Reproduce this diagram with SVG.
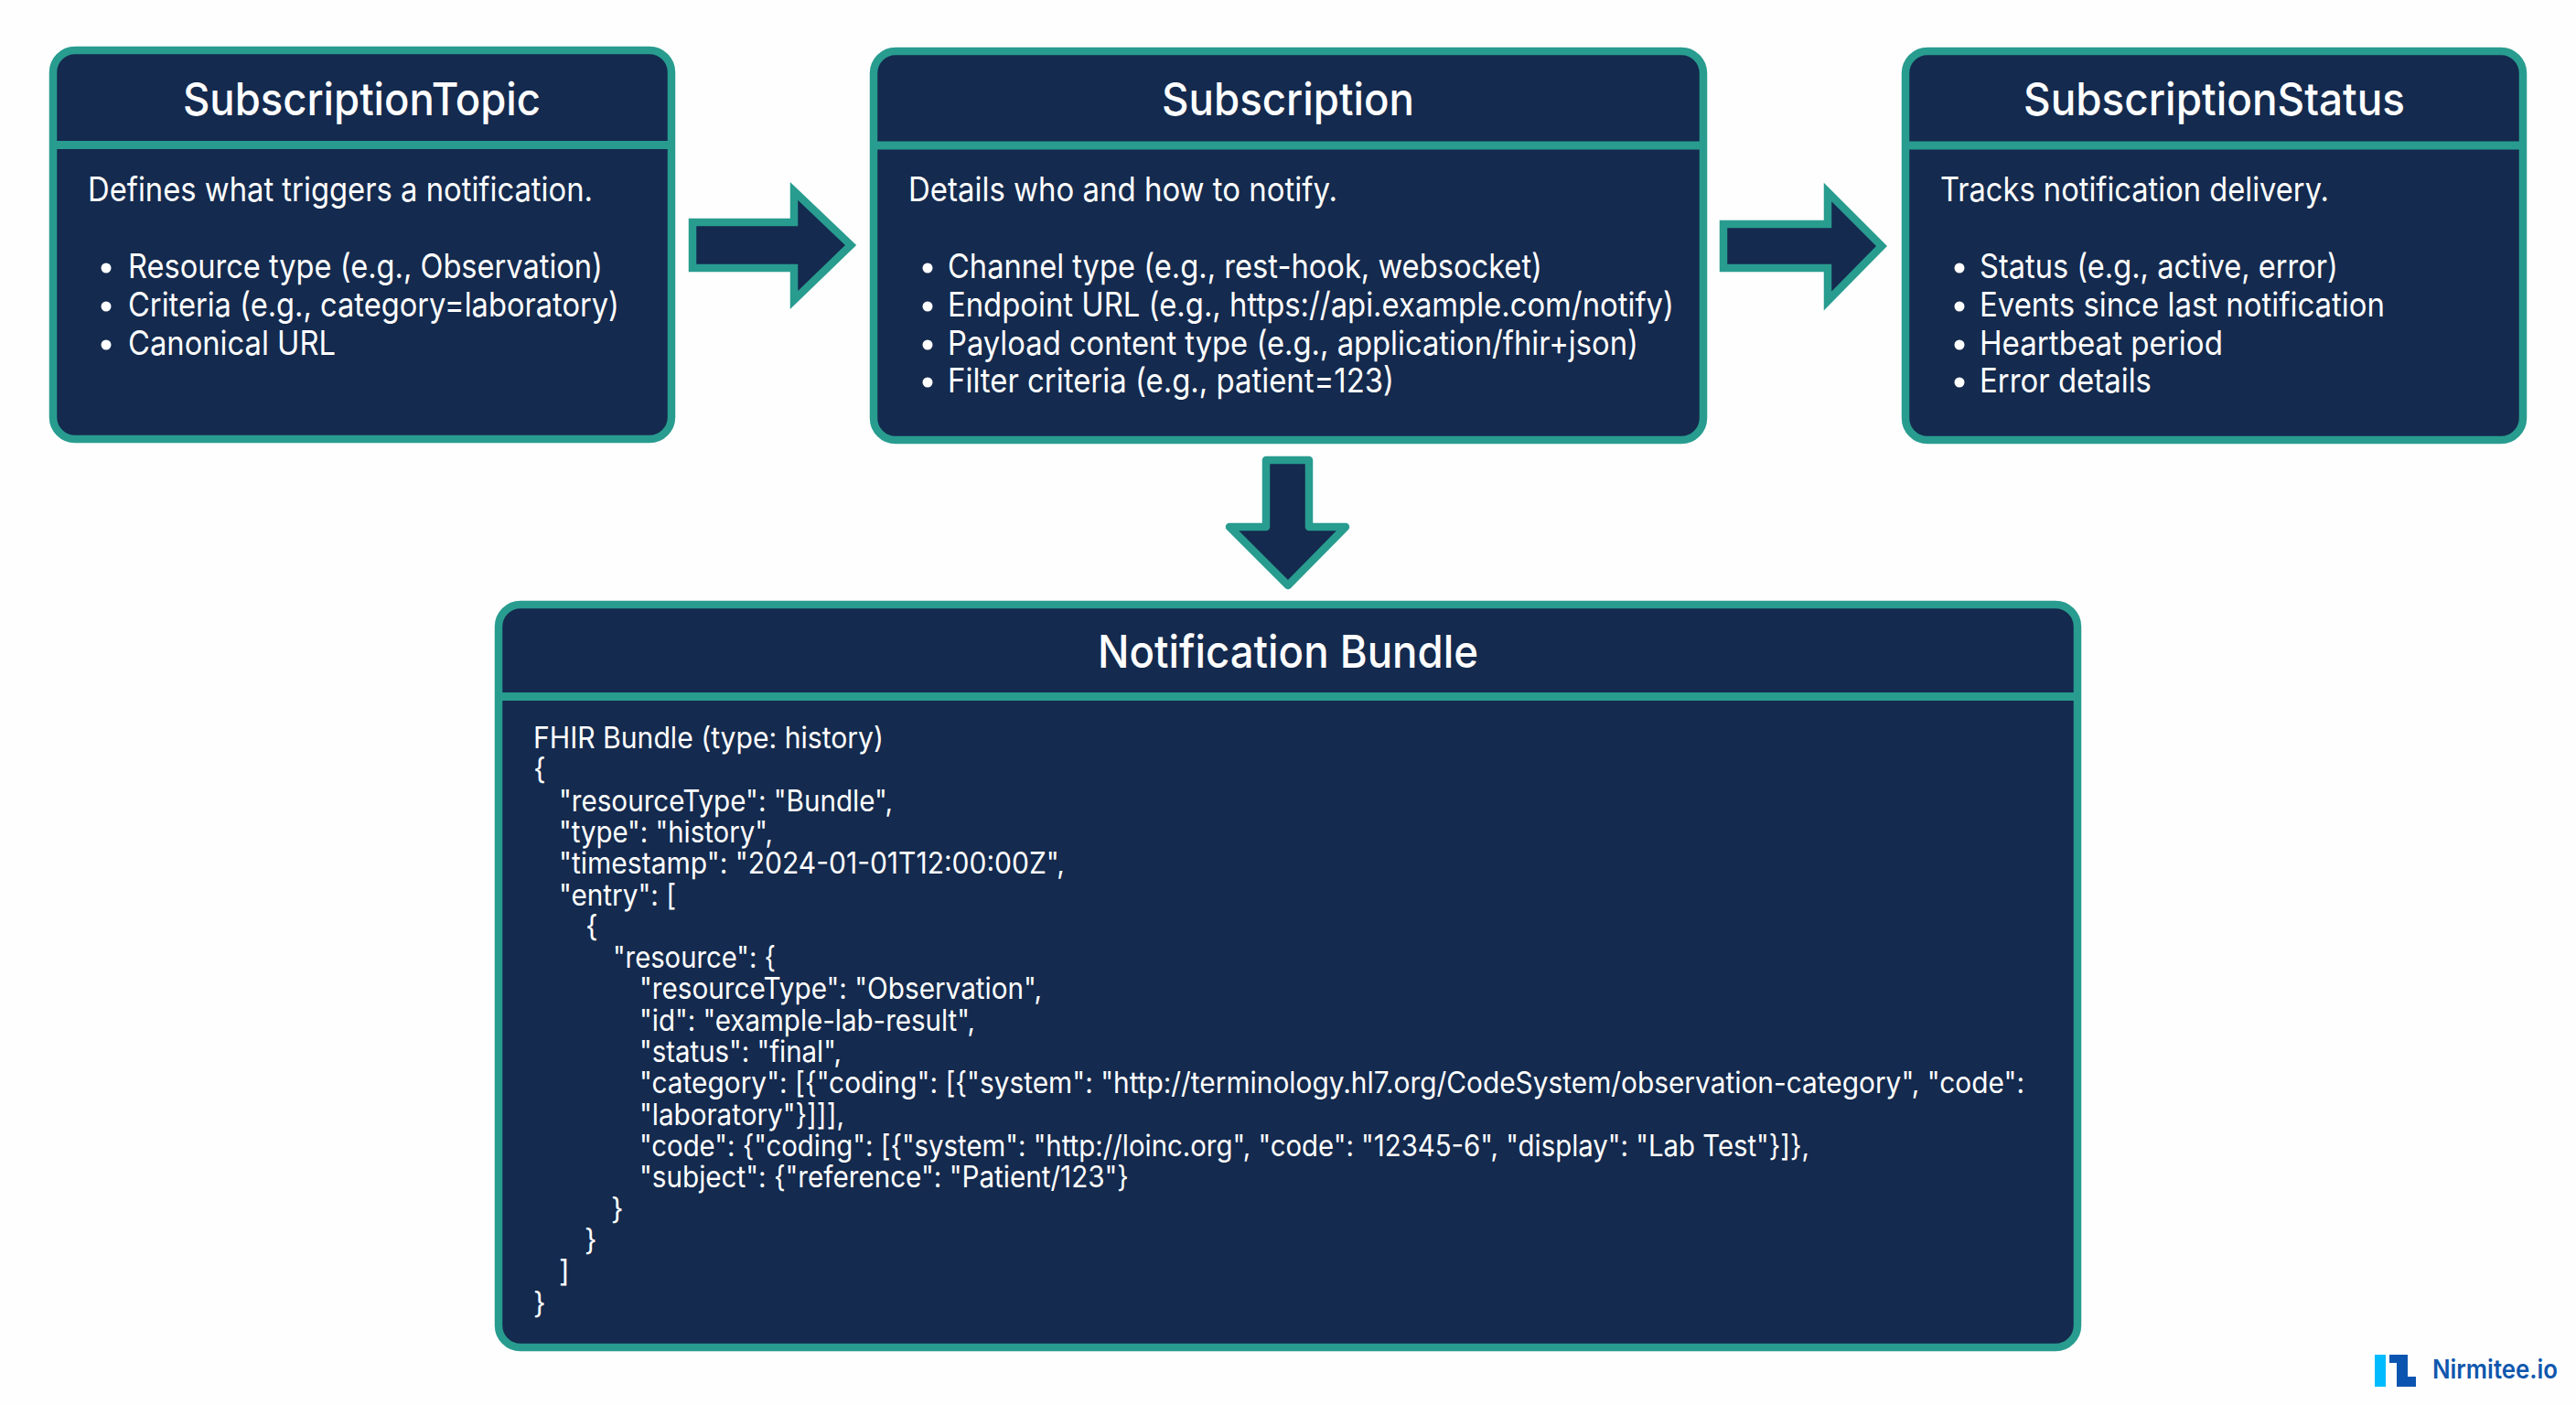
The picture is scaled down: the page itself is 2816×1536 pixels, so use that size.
<svg xmlns="http://www.w3.org/2000/svg" width="2816" height="1536" viewBox="0 0 2816 1536">
<style>
.box{fill:#142a4e;stroke:#289c8f;stroke-width:8.500}
.div{stroke:#289c8f;stroke-width:9;fill:none}
.arrow{fill:#142a4e;stroke:#289c8f;stroke-width:8.500;stroke-linejoin:round}
.sharp{stroke-linejoin:miter;stroke-miterlimit:3}
text{font-family:"Inter","Roboto","Liberation Sans",sans-serif;fill:#fff}
.title{font-size:50px;font-weight:500}
.body{font-size:37px}
.code{font-size:32px}
.dot{fill:#fff}
.brand{font-size:28px;font-weight:600;fill:#0f57ad}
</style>
<rect width="2816" height="1536" fill="#fefefe"/>
<g id="connectors">
<path id="arrow-topic-subscription" class="arrow sharp" d="M757 243H868V209L930 268L868 328V293H757Z"/>
<path id="arrow-subscription-status" class="arrow sharp" d="M1884 245H1998V210L2057 269L1998 329V293H1884Z"/>
<path id="arrow-subscription-bundle" class="arrow" d="M1384 503H1431V576H1471L1408 640L1344 576H1384Z"/>
</g>
<g id="node-subscriptiontopic">
<rect class="box" x="58" y="55" width="676" height="425" rx="24"/>
<path class="div" d="M58 158.500H734"/>
<text class="title" x="200" y="126" textLength="391" lengthAdjust="spacingAndGlyphs">SubscriptionTopic</text>
<text class="body" x="96" y="220" textLength="552" lengthAdjust="spacingAndGlyphs">Defines what triggers a notification.</text>
<circle class="dot" cx="116" cy="293" r="5.500"/>
<text class="body" x="140" y="304" textLength="519" lengthAdjust="spacingAndGlyphs">Resource type (e.g., Observation)</text>
<circle class="dot" cx="116" cy="335" r="5.500"/>
<text class="body" x="140" y="346" textLength="537" lengthAdjust="spacingAndGlyphs">Criteria (e.g., category=laboratory)</text>
<circle class="dot" cx="116" cy="377" r="5.500"/>
<text class="body" x="140" y="388" textLength="227" lengthAdjust="spacingAndGlyphs">Canonical URL</text>
</g>
<g id="node-subscription">
<rect class="box" x="955" y="56" width="907" height="425" rx="24"/>
<path class="div" d="M955 159H1862"/>
<text class="title" x="1270" y="126" textLength="276" lengthAdjust="spacingAndGlyphs">Subscription</text>
<text class="body" x="993" y="220" textLength="469" lengthAdjust="spacingAndGlyphs">Details who and how to notify.</text>
<circle class="dot" cx="1014" cy="293" r="5.500"/>
<text class="body" x="1036" y="304" textLength="650" lengthAdjust="spacingAndGlyphs">Channel type (e.g., rest-hook, websocket)</text>
<circle class="dot" cx="1014" cy="335" r="5.500"/>
<text class="body" x="1036" y="346" textLength="794" lengthAdjust="spacingAndGlyphs">Endpoint URL (e.g., https://api.example.com/notify)</text>
<circle class="dot" cx="1014" cy="377" r="5.500"/>
<text class="body" x="1036" y="388" textLength="755" lengthAdjust="spacingAndGlyphs">Payload content type (e.g., application/fhir+json)</text>
<circle class="dot" cx="1014" cy="418" r="5.500"/>
<text class="body" x="1036" y="429" textLength="488" lengthAdjust="spacingAndGlyphs">Filter criteria (e.g., patient=123)</text>
</g>
<g id="node-subscriptionstatus">
<rect class="box" x="2083" y="56" width="675" height="425" rx="24"/>
<path class="div" d="M2083 159H2758"/>
<text class="title" x="2212" y="126" textLength="417" lengthAdjust="spacingAndGlyphs">SubscriptionStatus</text>
<text class="body" x="2121" y="220" textLength="425" lengthAdjust="spacingAndGlyphs">Tracks notification delivery.</text>
<circle class="dot" cx="2142" cy="293" r="5.500"/>
<text class="body" x="2164" y="304" textLength="392" lengthAdjust="spacingAndGlyphs">Status (e.g., active, error)</text>
<circle class="dot" cx="2142" cy="335" r="5.500"/>
<text class="body" x="2164" y="346" textLength="443" lengthAdjust="spacingAndGlyphs">Events since last notification</text>
<circle class="dot" cx="2142" cy="377" r="5.500"/>
<text class="body" x="2164" y="388" textLength="266" lengthAdjust="spacingAndGlyphs">Heartbeat period</text>
<circle class="dot" cx="2142" cy="418" r="5.500"/>
<text class="body" x="2164" y="429" textLength="188" lengthAdjust="spacingAndGlyphs">Error details</text>
</g>
<g id="node-notification-bundle">
<rect class="box" x="545" y="661" width="1726" height="812" rx="24"/>
<path class="div" d="M545 761.500H2271"/>
<text class="title" x="1200" y="730" textLength="416" lengthAdjust="spacingAndGlyphs">Notification Bundle</text>
<text class="code" x="583" y="818" textLength="383" lengthAdjust="spacingAndGlyphs">FHIR Bundle (type: history)</text>
<text class="code" x="583" y="852">{</text>
<text class="code" x="611" y="887" textLength="365" lengthAdjust="spacingAndGlyphs">"resourceType": "Bundle",</text>
<text class="code" x="611" y="921" textLength="234" lengthAdjust="spacingAndGlyphs">"type": "history",</text>
<text class="code" x="611" y="955" textLength="553" lengthAdjust="spacingAndGlyphs">"timestamp": "2024-01-01T12:00:00Z",</text>
<text class="code" x="611" y="990" textLength="128" lengthAdjust="spacingAndGlyphs">"entry": [</text>
<text class="code" x="640" y="1024">{</text>
<text class="code" x="670" y="1058" textLength="178" lengthAdjust="spacingAndGlyphs">"resource": {</text>
<text class="code" x="699" y="1092" textLength="440" lengthAdjust="spacingAndGlyphs">"resourceType": "Observation",</text>
<text class="code" x="699" y="1127" textLength="367" lengthAdjust="spacingAndGlyphs">"id": "example-lab-result",</text>
<text class="code" x="699" y="1161" textLength="221" lengthAdjust="spacingAndGlyphs">"status": "final",</text>
<text class="code" x="699" y="1195" textLength="1514" lengthAdjust="spacingAndGlyphs">"category": [{"coding": [{"system": "http://terminology.hl7.org/CodeSystem/observation-category", "code":</text>
<text class="code" x="699" y="1230" textLength="224" lengthAdjust="spacingAndGlyphs">"laboratory"}]]],</text>
<text class="code" x="699" y="1264" textLength="1279" lengthAdjust="spacingAndGlyphs">"code": {"coding": [{"system": "http://loinc.org", "code": "12345-6", "display": "Lab Test"}]},</text>
<text class="code" x="699" y="1298" textLength="535" lengthAdjust="spacingAndGlyphs">"subject": {"reference": "Patient/123"}</text>
<text class="code" x="668" y="1333">}</text>
<text class="code" x="639" y="1367">}</text>
<text class="code" x="611" y="1401">]</text>
<text class="code" x="583" y="1436">}</text>
</g>
<g id="logo">
<rect x="2596" y="1481" width="12" height="35" fill="#00bcff"/>
<path d="M2612 1481H2632V1505H2641V1516H2620V1490H2612Z" fill="#0b55b0"/>
<text class="brand" x="2659" y="1507" textLength="137" lengthAdjust="spacingAndGlyphs">Nirmitee.io</text>
</g>
</svg>
